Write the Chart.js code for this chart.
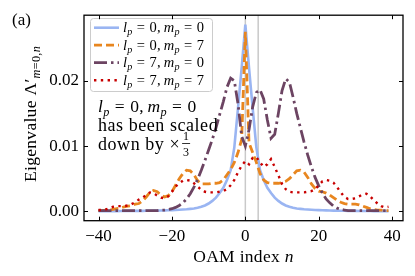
<!DOCTYPE html>
<html><head><meta charset="utf-8">
<script src="https://cdn.jsdelivr.net/npm/chart.js@4.4.1/dist/chart.umd.min.js"></script>
<style>html,body{margin:0;padding:0;background:#fff;}canvas{display:block;}</style>
</head><body>
<canvas id="c" width="415" height="276" style="width:415px;height:276px"></canvas>
<script>
// OAM index n
const nIndex = [-40,-39,-38,-37,-36,-35,-34,-33,-32,-31,-30,-29,-28,-27,-26,-25,-24,-23,-22,-21,
-20,-19,-18,-17,-16,-15,-14,-13,-12,-11,-10,-9,-8,-7,-6,-5,-4,-3,-2,-1,
0,1,2,3,4,5,6,7,8,9,10,11,12,13,14,15,16,17,18,19,
20,21,22,23,24,25,26,27,28,29,30,31,32,33,34,35,36,37,38,39];

// l_p = 0, m_p = 0 (scaled by 1/3)
const seriesL0M0 = [0.00003,0.00003,0.00003,0.00004,0.00004,0.00004,0.00005,0.00005,0.00006,0.00006,
0.00007,0.00008,0.00008,0.00009,0.0001,0.00011,0.00012,0.00013,0.00015,0.00017,
0.00019,0.00021,0.00024,0.00028,0.00032,0.00038,0.00045,0.00055,0.0007,0.0009,
0.0012,0.0016,0.0021,0.0028,0.0036,0.0048,0.0063,0.0098,0.0158,0.0220,
0.0286,0.0220,0.0158,0.0098,0.0063,0.0048,0.0036,0.0028,0.0021,0.0016,
0.0012,0.0009,0.0007,0.00055,0.00045,0.00038,0.00032,0.00028,0.00024,0.00021,
0.00019,0.00017,0.00015,0.00013,0.00012,0.00011,0.0001,0.00009,0.00008,0.00008,
0.00007,0.00006,0.00006,0.00005,0.00005,0.00004,0.00004,0.00004,0.00003,0.00003];

// l_p = 0, m_p = 7
const seriesL0M7 = [0.0001,0.0001,0.0002,0.0002,0.0003,0.0004,0.0005,0.0007,0.0008,0.0009,
0.0011,0.0012,0.0016,0.0022,0.0029,0.0032,0.0030,0.0025,0.0022,0.0024,
0.0030,0.0040,0.0050,0.0058,0.0063,0.0062,0.0056,0.0047,0.0042,0.0042,
0.0042,0.0043,0.0043,0.0044,0.0048,0.0056,0.0064,0.0075,0.0090,0.0110,
0.0275,0.0105,0.0090,0.0075,0.0058,0.0048,0.0044,0.0043,0.0043,0.0043,
0.0044,0.0046,0.0050,0.0056,0.0062,0.0063,0.0060,0.0052,0.0042,0.0035,
0.0031,0.0030,0.0028,0.0025,0.0021,0.0017,0.0014,0.0012,0.0011,0.0011,
0.0011,0.0010,0.0008,0.0006,0.0004,0.0003,0.0002,0.0002,0.0001,0.0001];

// l_p = 7, m_p = 0
const seriesL7M0 = [0.0001,0.0001,0.0001,0.0001,0.0001,0.0001,0.0001,0.0001,0.0001,0.0001,
0.0001,0.0001,0.0001,0.0001,0.0001,0.0001,0.0001,0.0002,0.0002,0.0003,
0.0004,0.0006,0.0009,0.0013,0.0019,0.0027,0.0037,0.0049,0.0063,0.0078,
0.0094,0.0110,0.0128,0.0148,0.0168,0.0190,0.0204,0.0200,0.0165,0.0115,
0.0100,0.0125,0.0160,0.0182,0.0186,0.0172,0.0140,0.0112,0.0118,0.0150,
0.0185,0.0203,0.0198,0.0175,0.0150,0.0128,0.0106,0.0086,0.0068,0.0052,
0.0039,0.0028,0.0019,0.0013,0.0008,0.0005,0.0003,0.0002,0.0001,0.0001,
0.0001,0.0001,0.0001,0.0001,0.0001,0.0001,0.0001,0.0001,0.0001,0.0001];

// l_p = 7, m_p = 7
const seriesL7M7 = [0.0002,0.0002,0.0003,0.0005,0.0007,0.0008,0.0008,0.0008,0.0009,0.0011,
0.0014,0.0018,0.0021,0.0025,0.0029,0.0028,0.0024,0.0021,0.0020,0.0023,
0.0030,0.0038,0.0043,0.0047,0.0048,0.0047,0.0043,0.0038,0.0033,0.0030,
0.0029,0.0029,0.0029,0.0030,0.0031,0.0034,0.0040,0.0048,0.0060,0.0070,
0.0077,0.0072,0.0082,0.0083,0.0075,0.0068,0.0072,0.0080,0.0068,0.0055,
0.0042,0.0034,0.0030,0.0029,0.0029,0.0029,0.0029,0.0030,0.0031,0.0034,
0.0040,0.0046,0.0048,0.0047,0.0044,0.0037,0.0029,0.0022,0.0019,0.0019,
0.0020,0.0023,0.0026,0.0027,0.0023,0.0017,0.0012,0.0008,0.0006,0.0007];

const xTickValues = [-40,-20,0,20,40];
const yTickValues = [0, 0.01, 0.02];
const yTickLabels = ['0.00','0.01','0.02'];
const markerLines = [0, 3.5];
const xRange = [-43.95, 42.95];
const yRange = [-0.00143, 0.03003];

const SERIF = '"Liberation Serif", "DejaVu Serif", serif';

function pts(arr){ return nIndex.map((n,i)=>({x:n,y:arr[i]})); }

// rich text helper: segments {t, it, sub, sup, sp}
function richWidth(ctx, segs, size, ls){
  let w=0;
  ctx.letterSpacing = (ls||0)+'px';
  for(const s of segs){
    if(s.sp!==undefined){ w+=s.sp*size; continue; }
    const fs = (s.sub||s.sup)? size*0.7 : size;
    ctx.font = (s.it?'italic ':'') + fs + 'px ' + SERIF;
    w += ctx.measureText(s.t).width;
  }
  ctx.letterSpacing = '0px';
  return w;
}
function drawRich(ctx, x, y, segs, size, ls){
  let cx=x;
  ctx.textBaseline='alphabetic'; ctx.textAlign='left';
  ctx.letterSpacing = (ls||0)+'px';
  for(const s of segs){
    if(s.sp!==undefined){ cx+=s.sp*size; continue; }
    const fs = (s.sub||s.sup)? size*0.7 : size;
    ctx.font = (s.it?'italic ':'') + fs + 'px ' + SERIF;
    const dy = s.sub? size*0.22 : (s.sup? -size*0.38 : 0);
    ctx.fillText(s.t, cx, y+dy);
    cx += ctx.measureText(s.t).width;
  }
  ctx.letterSpacing = '0px';
  return cx-x;
}
function lpmp(l,m){
  return [{t:'l',it:1},{t:'p',it:1,sub:1},{sp:0.3},{t:'='},{sp:0.3},{t:String(l)},{t:','},{sp:0.2},
          {t:'m',it:1},{t:'p',it:1,sub:1},{sp:0.3},{t:'='},{sp:0.3},{t:String(m)}];
}

const legendLabels = [lpmp(0,0), lpmp(0,7), lpmp(7,0), lpmp(7,7)];

const decor = {
  id:'decor',
  beforeDatasetsDraw(chart){
    const {ctx, chartArea:a, scales:{x}} = chart;
    ctx.save();
    ctx.strokeStyle='#c9c9c9'; ctx.lineWidth=1.5;
    for(const v of markerLines){
      const px = x.getPixelForValue(v);
      ctx.beginPath(); ctx.moveTo(px,a.top); ctx.lineTo(px,a.bottom); ctx.stroke();
    }
    ctx.restore();
  },
  afterDatasetsDraw(chart){
    const {ctx} = chart;
    ctx.save();
    // annotation
    ctx.fillStyle='#000';
    drawRich(ctx, 98, 112, lpmp(0,0), 17.5, 0.3);
    drawRich(ctx, 98, 131, [{t:'has been scaled'}], 18, 0.55);
    const w = drawRich(ctx, 98, 150, [{t:'down by '},{t:'×'}], 18, 0.55);
    // fraction 1/3
    ctx.font='12px '+SERIF; ctx.textAlign='center';
    const fx = 98 + w + 6;
    ctx.fillText('1', fx, 140);
    ctx.fillText('3', fx, 156);
    ctx.fillRect(fx-4, 143, 8, 0.8);
    // legend
    const lx=90, ly=18, lw=122, lh=73;
    ctx.fillStyle='rgba(255,255,255,0.85)';
    ctx.strokeStyle='#cccccc'; ctx.lineWidth=1;
    ctx.beginPath(); ctx.roundRect(lx+0.5, ly+0.5, lw, lh, 3); ctx.fill(); ctx.stroke();
    chart.data.datasets.forEach((ds,i)=>{
      const ry = 27.7 + i*17.5;
      ctx.save();
      ctx.strokeStyle = ds.borderColor; ctx.lineWidth = ds.borderWidth;
      ctx.setLineDash(ds.borderDash||[]); ctx.lineCap='butt';
      ctx.beginPath(); ctx.moveTo(94, ry); ctx.lineTo(119, ry); ctx.stroke();
      ctx.restore();
      ctx.fillStyle='#000';
      drawRich(ctx, 123, ry+4.5, legendLabels[i], 14.5, 0.2);
    });
    ctx.restore();
  },
  afterDraw(chart){
    const {ctx, chartArea:a, scales:{x,y}} = chart;
    ctx.save();
    ctx.strokeStyle='#000'; ctx.lineWidth=1.3;
    ctx.strokeRect(a.left, a.top, a.right-a.left, a.bottom-a.top);
    ctx.lineWidth=1;
    for(const v of xTickValues){
      const px = Math.round(x.getPixelForValue(v))+0.5;
      ctx.beginPath();
      ctx.moveTo(px,a.bottom); ctx.lineTo(px,a.bottom-4);
      ctx.moveTo(px,a.top); ctx.lineTo(px,a.top+4);
      ctx.stroke();
    }
    for(const v of yTickValues){
      const py = Math.round(y.getPixelForValue(v))+0.5;
      ctx.beginPath();
      ctx.moveTo(a.left,py); ctx.lineTo(a.left+4,py);
      ctx.moveTo(a.right,py); ctx.lineTo(a.right-4,py);
      ctx.stroke();
    }
    // axis titles
    ctx.fillStyle='#000';
    const xt = [{t:'OAM index '},{t:'n',it:1}];
    const xw = richWidth(ctx, xt, 17.5, 0.3);
    drawRich(ctx, (a.left+a.right)/2 - xw/2, 262, xt, 17.5, 0.3);
    const yt = [{t:'Eigenvalue '},{t:'Λ′'},{t:'m',it:1,sub:1},{t:'=',sub:1},{t:'0',sub:1},{t:',',sub:1},{t:'n',it:1,sub:1}];
    const yw = richWidth(ctx, yt, 17.5, 0.3);
    ctx.save();
    ctx.translate(36, (a.top+a.bottom)/2 - 4);
    ctx.rotate(-Math.PI/2);
    drawRich(ctx, -yw/2, 0, yt, 17.5, 0.3);
    ctx.restore();
    // panel tag
    ctx.font='17px '+SERIF; ctx.textAlign='left'; ctx.textBaseline='alphabetic';
    ctx.fillText('(a)', 12, 25);
    ctx.restore();
  }
};

new Chart(document.getElementById('c'), {
  type:'line',
  data:{
    datasets:[
      {label:'l0m0', data:pts(seriesL0M0), borderColor:'#9ab5f2', borderWidth:2.6, order:4},
      {label:'l0m7', data:pts(seriesL0M7), borderColor:'#e8861f', borderWidth:2.8, borderDash:[8,4], order:3},
      {label:'l7m0', data:pts(seriesL7M0), borderColor:'#6c4462', borderWidth:2.8, borderDash:[13,4,2.5,4], order:2},
      {label:'l7m7', data:pts(seriesL7M7), borderColor:'#c80000', borderWidth:2.4, borderDash:[2.4,4.4], order:1}
    ]
  },
  options:{
    responsive:false, devicePixelRatio:1, animation:false,
    elements:{point:{radius:0}, line:{tension:0, fill:false}},
    layout:{padding:{top:12.5, right:12, left:0, bottom:0}},
    plugins:{legend:{display:false}, tooltip:{enabled:false}},
    scales:{
      x:{type:'linear', min:xRange[0], max:xRange[1],
         afterBuildTicks:s=>{ s.ticks = xTickValues.map(v=>({value:v})); },
         ticks:{autoSkip:false, maxRotation:0, padding:6, color:'#000',
                font:{family:SERIF, size:17},
                callback:v=> (v<0?'\u2212':'') + Math.abs(v)},
         grid:{display:false, drawTicks:false}, border:{display:false},
         afterFit:s=>{ s.height = 55.3; }},
      y:{type:'linear', min:yRange[0], max:yRange[1],
         afterBuildTicks:s=>{ s.ticks = yTickValues.map(v=>({value:v})); },
         ticks:{autoSkip:false, padding:5, color:'#000',
                font:{family:SERIF, size:17},
                callback:(v)=>{ const i=yTickValues.indexOf(v); return i>=0? yTickLabels[i] : ''; }},
         grid:{display:false, drawTicks:false}, border:{display:false},
         afterFit:s=>{ s.width = 84; }}
    }
  },
  plugins:[decor]
});
</script>
</body></html>
